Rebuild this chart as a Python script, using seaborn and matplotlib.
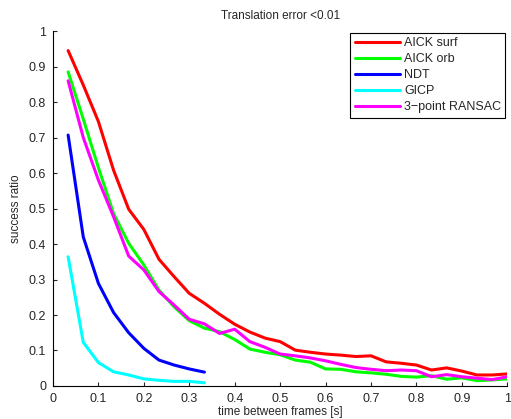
import numpy as np
import pandas as pd
import matplotlib
matplotlib.use('Agg')
import matplotlib.pyplot as plt
import seaborn as sns

# time between frames (30 Hz frames)
t_long = [i / 30 for i in range(1, 31)]
t_short = [i / 30 for i in range(1, 11)]

aick_surf = [0.945, 0.848, 0.745, 0.608, 0.498, 0.441, 0.357, 0.308, 0.261, 0.233,
             0.202, 0.174, 0.152, 0.135, 0.125, 0.101, 0.095, 0.090, 0.087, 0.083,
             0.085, 0.068, 0.064, 0.059, 0.045, 0.051, 0.042, 0.031, 0.031, 0.034]
aick_orb = [0.885, 0.752, 0.615, 0.486, 0.402, 0.341, 0.270, 0.223, 0.184, 0.163,
            0.153, 0.131, 0.104, 0.095, 0.088, 0.073, 0.067, 0.048, 0.047, 0.040,
            0.037, 0.033, 0.027, 0.025, 0.029, 0.019, 0.023, 0.015, 0.017, 0.020]
ndt = [0.707, 0.420, 0.289, 0.207, 0.150, 0.106, 0.073, 0.059, 0.048, 0.039]
gicp = [0.364, 0.123, 0.066, 0.040, 0.031, 0.020, 0.016, 0.013, 0.013, 0.009]
ransac = [0.860, 0.700, 0.580, 0.477, 0.366, 0.327, 0.266, 0.228, 0.188, 0.175,
          0.148, 0.160, 0.125, 0.109, 0.090, 0.085, 0.079, 0.071, 0.061, 0.052,
          0.047, 0.043, 0.045, 0.043, 0.026, 0.032, 0.026, 0.022, 0.018, 0.026]

names = ['AICK surf', 'AICK orb', 'NDT', 'GICP', '3\u2212point RANSAC']
colors = ['#ff0000', '#00ff00', '#0000ff', '#00ffff', '#ff00ff']

frames = [
    pd.DataFrame({'t': t_long, 'ratio': aick_surf, 'method': names[0]}),
    pd.DataFrame({'t': t_long, 'ratio': aick_orb, 'method': names[1]}),
    pd.DataFrame({'t': t_short, 'ratio': ndt, 'method': names[2]}),
    pd.DataFrame({'t': t_short, 'ratio': gicp, 'method': names[3]}),
    pd.DataFrame({'t': t_long, 'ratio': ransac, 'method': names[4]}),
]
df = pd.concat(frames, ignore_index=True)

sns.set_style('ticks')
plt.rcParams['font.family'] = ['Liberation Sans', 'DejaVu Sans']

fig = plt.figure(figsize=(5.11, 4.19), dpi=100)
ax = fig.add_axes([0.1037, 0.0788, 0.889, 0.847])
sns.lineplot(data=df, x='t', y='ratio', hue='method', hue_order=names,
             palette=colors, linewidth=2.2, ax=ax, sort=False)

ax.set_xlim(0, 1)
ax.set_ylim(0, 1)
ticks = np.round(np.arange(0, 1.01, 0.1), 1)
labels = ['0'] + ['%.1f' % v for v in ticks[1:-1]] + ['1']
ax.set_xticks(ticks)
ax.set_xticklabels(labels)
ax.set_yticks(ticks)
ax.set_yticklabels(labels)
ax.tick_params(direction='in', length=3, width=0.8, labelsize=9, pad=5)
sns.despine(ax=ax)
for s in ['left', 'bottom']:
    ax.spines[s].set_linewidth(0.8)
    ax.spines[s].set_color('black')

ax.set_title('Translation error <0.01', fontsize=8.5, pad=9)
ax.set_xlabel('time between frames [s]', fontsize=8.5, labelpad=1)
ax.set_ylabel('success ratio', fontsize=8.5, labelpad=5)

leg = ax.legend(loc='upper right', fontsize=9, frameon=True, fancybox=False,
                edgecolor='black', handlelength=3.6, handletextpad=0.35,
                labelspacing=0.32, borderpad=0.35, borderaxespad=0.15)
leg.get_frame().set_linewidth(0.8)
leg.get_frame().set_alpha(1)

fig.savefig('out.png', dpi=100)
